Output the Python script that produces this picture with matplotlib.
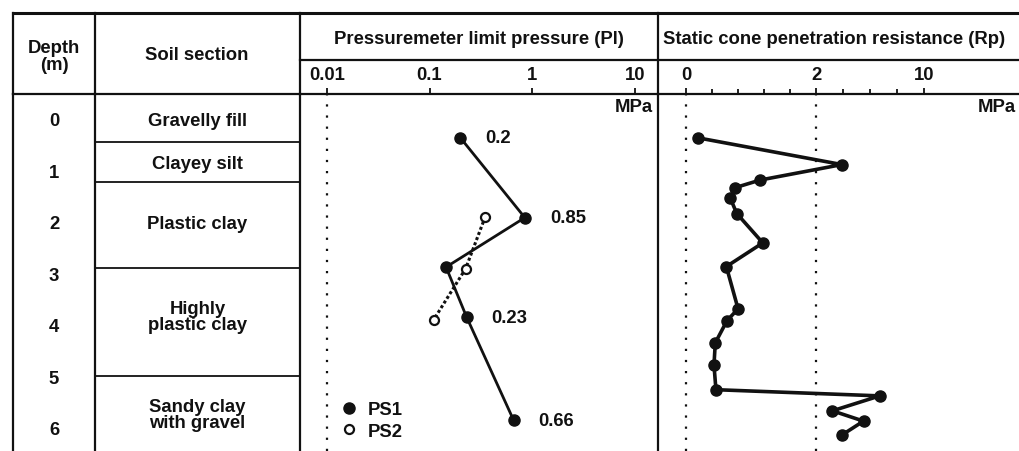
import matplotlib.pyplot as plt
import numpy as np
from matplotlib.lines import Line2D

# soil log
depth_ticks = [0, 1, 2, 3, 4, 5, 6]
layer_bottoms = [0.41, 1.18, 2.85, 4.95]
layer_names = ["Gravelly fill", "Clayey silt", "Plastic clay", "Highly\nplastic clay", "Sandy clay\nwith gravel"]
layer_label_depth = [0.0, 0.83, 2.0, 3.8, 5.7]

# pressuremeter limit pressure (MPa)
ps1_depth = [0.33, 1.88, 2.84, 3.81, 5.81]
ps1_pl = [0.2, 0.85, 0.145, 0.23, 0.66]
ps1_labels = ["0.2", "0.85", None, "0.23", "0.66"]
ps2_depth = [1.86, 2.87, 3.86]
ps2_pl = [0.35, 0.225, 0.11]
pl_ticks = [0.01, 0.1, 1, 10]
pl_tick_labels = ["0.01", "0.1", "1", "10"]

# static cone penetration resistance (MPa)
rp_depth = [0.33, 0.85, 1.15, 1.30, 1.50, 1.80, 2.37, 2.83, 3.65, 3.88,
            4.31, 4.74, 5.22, 5.34, 5.63, 5.83, 6.10]
rp_value = [0.18, 3.9, 1.14, 0.75, 0.68, 0.78, 1.18, 0.62, 0.80, 0.63,
            0.45, 0.43, 0.46, 6.7, 3.2, 5.5, 3.9]
rp_ticks = [0, 2, 10]
rp_minor = [0.4, 0.8, 1.2, 1.6, 4, 6, 8]

W, H = 1019, 452
FS = 13.3
INK = "#111111"
FONT = dict(family="Liberation Sans", weight="bold", color=INK)


def fx(px):
    return px / W


def fy(py):
    return 1 - py / H


def body_axes(fig, x0, x1):
    return fig.add_axes([fx(x0), 0, fx(x1) - fx(x0), fy(95)])


# compressed scale: 0-2 MPa stretched, 2-10 MPa squeezed
def rp_fwd(v):
    v = np.asarray(v, dtype=float)
    return np.where(v <= 2, v, 2 + (v - 2) * 0.2077)


def rp_inv(u):
    u = np.asarray(u, dtype=float)
    return np.where(u <= 2, u, 2 + (u - 2) / 0.2077)


fig = plt.figure(figsize=(W / 100, H / 100), dpi=100)
fig.patch.set_facecolor("white")

ax_depth = body_axes(fig, 13, 95)
ax_soil = body_axes(fig, 95, 300)
ax_pl = body_axes(fig, 300, 658)
ax_rp = body_axes(fig, 658, W)

for ax in (ax_depth, ax_soil, ax_pl, ax_rp):
    ax.set_ylim(6.41, -0.52)
    ax.set_yticks([])
    ax.spines["right"].set_visible(False)
    ax.spines["bottom"].set_visible(False)
    ax.spines["left"].set_linewidth(1.6)
    ax.spines["top"].set_linewidth(1.6)
    ax.spines["left"].set_color(INK)
    ax.spines["top"].set_color(INK)
    ax.patch.set_alpha(0)

for ax in (ax_depth, ax_soil):
    ax.set_xlim(0, 1)
    ax.set_xticks([])

for d in depth_ticks:
    ax_depth.text(0.5, d, str(d), ha="center", va="center", fontsize=FS, **FONT)

for b in layer_bottoms:
    ax_soil.axhline(b, color=INK, lw=1.3)
for name, d in zip(layer_names, layer_label_depth):
    ax_soil.text(0.5, d, name, ha="center", va="center", fontsize=FS,
                 linespacing=0.95, **FONT)

# pressuremeter panel
ax_pl.set_xscale("log")
ax_pl.set_xlim(0.00546, 16.9)
ax_pl.axvline(0.01, color=INK, lw=1.6, ls=(0, (1, 4)))
ax_pl.plot(ps2_pl, ps2_depth, color=INK, lw=2.2, ls=(0, (1, 0.8)),
           marker="o", ms=6.5, mfc="white", mec=INK, mew=1.6, zorder=3)
ax_pl.plot(ps1_pl, ps1_depth, color=INK, lw=2.0, marker="o", ms=8,
           mfc=INK, mec=INK, zorder=4)
for v, d, lab in zip(ps1_pl, ps1_depth, ps1_labels):
    if lab:
        ax_pl.annotate(lab, (v, d), xytext=(18, 0), textcoords="offset points",
                       ha="left", va="center", fontsize=FS, **FONT)
ax_pl.annotate("MPa", (0.985, 1), xycoords="axes fraction", xytext=(0, -3),
               textcoords="offset points", ha="right", va="top", fontsize=FS, **FONT)

handles = [
    Line2D([], [], ls="none", marker="o", ms=8, mfc=INK, mec=INK),
    Line2D([], [], ls="none", marker="o", ms=6.5, mfc="white", mec=INK, mew=1.6),
]
leg = ax_pl.legend(handles, ["PS1", "PS2"], loc="lower left",
                   bbox_to_anchor=(0.08, 0.0), frameon=False, handlelength=1.0,
                   handletextpad=0.5, labelspacing=0.25, borderaxespad=0.2,
                   prop=dict(family="Liberation Sans", weight="bold", size=FS))
for t in leg.get_texts():
    t.set_color(INK)

# cone penetration panel
ax_rp.set_xscale("function", functions=(rp_fwd, rp_inv))
ax_rp.set_xlim(-0.43, 17.0)
for v in rp_ticks[:2]:
    ax_rp.axvline(v, color=INK, lw=1.6, ls=(0, (1, 4)))
ax_rp.plot(rp_value, rp_depth, color=INK, lw=2.6, marker="o", ms=8,
           mfc=INK, mec=INK, zorder=4)
ax_rp.annotate("MPa", (1, 1), xycoords="axes fraction", xytext=(-2, -3),
               textcoords="offset points", ha="right", va="top", fontsize=FS, **FONT)

for ax, ticks, labels in ((ax_pl, pl_ticks, pl_tick_labels),
                          (ax_rp, rp_ticks, [str(t) for t in rp_ticks])):
    ax.xaxis.tick_top()
    ax.set_xticks(ticks)
    ax.set_xticklabels(labels)
    ax.tick_params(axis="x", which="both", direction="out", length=4, width=1.3,
                   color=INK, pad=4, labelsize=FS)
    for t in ax.get_xticklabels():
        t.set_fontfamily("Liberation Sans")
        t.set_fontweight("bold")
        t.set_color(INK)

ax_pl.xaxis.set_minor_locator(plt.NullLocator())
ax_rp.set_xticks(rp_minor, minor=True)
ax_rp.tick_params(axis="x", which="minor", length=3.5)

# header frame
hdr = [
    ((13, W), (14, 14), 2.2),
    ((300, W), (61, 61), 1.6),
    ((13, 13), (14, 95), 1.6),
    ((95, 95), (14, 95), 1.6),
    ((300, 300), (14, 95), 1.6),
    ((658, 658), (14, 95), 1.6),
]
for xs, ys, lw in hdr:
    fig.add_artist(Line2D([fx(xs[0]), fx(xs[1])], [fy(ys[0]), fy(ys[1])],
                          transform=fig.transFigure, color=INK, lw=lw))

fig.text(fx(54), fy(57), "Depth\n(m)", ha="center", va="center", fontsize=FS,
         linespacing=0.95, **FONT)
fig.text(fx(197), fy(55), "Soil section", ha="center", va="center", fontsize=FS, **FONT)
fig.text(fx(479), fy(39), "Pressuremeter limit pressure (Pl)", ha="center",
         va="center", fontsize=FS, **FONT)
fig.text(fx(663), fy(39), "Static cone penetration resistance (Rp)", ha="left",
         va="center", fontsize=FS, **FONT)

fig.savefig("out.png", dpi=100, facecolor="white")
